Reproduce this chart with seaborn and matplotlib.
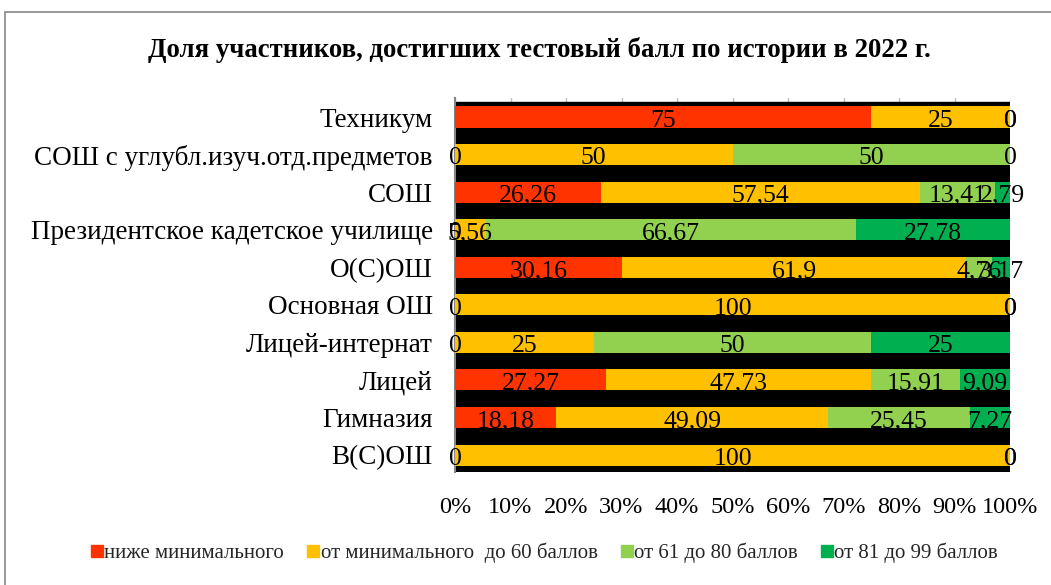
import numpy as np
import pandas as pd
import matplotlib
matplotlib.use("Agg")
import matplotlib.pyplot as plt
import seaborn as sns
from matplotlib.lines import Line2D

categories = ["Техникум", "СОШ с углубл.изуч.отд.предметов", "СОШ",
              "Президентское кадетское училище", "О(С)ОШ", "Основная ОШ",
              "Лицей-интернат", "Лицей", "Гимназия", "В(С)ОШ"]
below_min = [75, 0, 26.26, 0, 30.16, 0, 0, 27.27, 18.18, 0]
min_to_60 = [25, 50, 57.54, 5.56, 61.9, 100, 25, 47.73, 49.09, 100]
from_61_80 = [0, 50, 13.41, 66.67, 4.76, 0, 50, 15.91, 25.45, 0]
from_81_99 = [0, 0, 2.79, 27.78, 3.17, 0, 25, 9.09, 7.27, 0]
series_names = ["ниже минимального", "от минимального  до 60 баллов",
                "от 61 до 80 баллов", "от 81 до 99 баллов"]
colors = ["#FF3300", "#FFC000", "#92D050", "#00B050"]
tick_vals = [0, 10, 20, 30, 40, 50, 60, 70, 80, 90, 100]
title = "Доля участников, достигших тестовый балл по истории в 2022 г."

sns.set_theme(style="white")
plt.rcParams["font.family"] = ["Liberation Serif", "DejaVu Serif"]

series = [below_min, min_to_60, from_61_80, from_81_99]
cum = np.cumsum(np.array(series, dtype=float), axis=0)

fig = plt.figure(figsize=(10.51, 5.85), dpi=100)
ax = fig.add_axes([455/1051, 1-472/585, (1010-455)/1051, (472-98)/585])

df = pd.DataFrame({"cat": categories})
for i in range(3, -1, -1):
    df["v"] = cum[i]
    sns.barplot(data=df, x="v", y="cat", orient="h", color=colors[i],
                saturation=1, width=0.56, ax=ax, zorder=3, edgecolor="none")

ax.set_xlim(0, 100)
ax.set_ylim(9.45, -0.506)
ax.axhspan(-0.40, 9.45, color="black", zorder=1)
ax.set_axisbelow(True)
ax.grid(axis="x", color="#BFBFBF", linewidth=1)
ax.grid(axis="y", visible=False)

# data labels
for i in range(4):
    for j in range(len(categories)):
        start = cum[i][j] - series[i][j]
        val = series[i][j]
        txt = ("%g" % val).replace(".", ",")
        ax.text(start + val/2, j + 0.26, txt, ha="center", va="baseline",
                fontsize=18.5, color="black", zorder=5, clip_on=False)

ax.set_xticks(tick_vals)
ax.set_xticklabels([f"{t}%" for t in tick_vals], fontsize=17.5)
ax.tick_params(axis="x", length=0, pad=18)
ax.tick_params(axis="y", length=0, pad=16, labelsize=19.5)
ax.set_xlabel("")
ax.set_ylabel("")
for s in ["top", "right", "bottom"]:
    ax.spines[s].set_visible(False)
ax.spines["left"].set_color("#868686")
ax.spines["left"].set_linewidth(1.5)
for lab in ax.get_yticklabels():
    lab.set_color("black")
for lab in ax.get_xticklabels():
    lab.set_color("black")

fig.text(539/1051, 1-50/585, title, ha="center", va="center", fontsize=19.3,
         fontweight="bold", color="black")

handles = [Line2D([0], [0], marker="s", linestyle="none", markersize=9,
                  markerfacecolor=c, markeredgecolor=c) for c in colors]
fig.legend(handles, series_names, loc="center", bbox_to_anchor=(0.518, 1-553/585),
           ncol=4, frameon=False, fontsize=15, handletextpad=0.05,
           columnspacing=1.1, handlelength=0.6)

# outer chart border
fig.add_artist(plt.Rectangle((5/1051, -0.1), 1.2, 1-12/585 + 0.1, transform=fig.transFigure,
                             fill=False, edgecolor="#868686", linewidth=1.2))

fig.savefig("out.png", dpi=100, facecolor="white")
